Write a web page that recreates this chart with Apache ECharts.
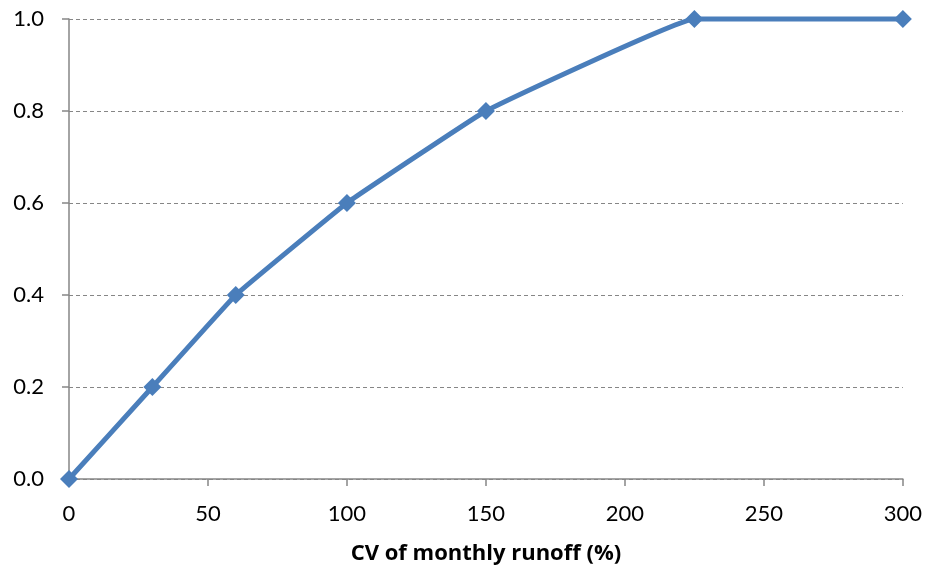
<!DOCTYPE html>
<html><head><meta charset="utf-8">
<script src="https://cdn.jsdelivr.net/npm/echarts@6/dist/echarts.min.js"></script>
<style>html,body{margin:0;padding:0;background:#fff}#c{width:925px;height:570px}</style>
</head><body><div id="c"></div>
<script>
var cvValues = [0, 30, 60, 100, 150, 225, 300];
var fractionValues = [0, 0.2, 0.4, 0.6, 0.8, 1.0, 1.0];
var xAxisTitle = 'CV of monthly runoff (%)';

var chart = echarts.init(document.getElementById('c'));
var font = 'Lato, "Open Sans", sans-serif';
chart.setOption({
  animation: false,
  grid: {left: 69, right: 22, top: 19, bottom: 91},
  xAxis: {
    type: 'value', min: 0, max: 300, interval: 50,
    name: xAxisTitle, nameLocation: 'middle', nameGap: 64,
    nameTextStyle: {fontFamily: '"Open Sans", sans-serif', fontSize: 22, fontWeight: 'bold', color: '#000'},
    axisLine: {show: true, lineStyle: {color: '#868686', width: 1.5}},
    axisTick: {show: true, inside: false, length: 7, lineStyle: {color: '#868686', width: 1.5}},
    axisLabel: {fontFamily: font, fontSize: 22, color: '#000', margin: 24},
    splitLine: {show: false}
  },
  yAxis: {
    type: 'value', min: 0, max: 1, interval: 0.2,
    axisLine: {show: true, lineStyle: {color: '#868686', width: 1.5}},
    axisTick: {show: true, inside: false, length: 7, lineStyle: {color: '#868686', width: 1.5}},
    axisLabel: {fontFamily: font, fontSize: 22, color: '#000', margin: 25,
      formatter: function (v) { return v.toFixed(1); }},
    splitLine: {show: true, lineStyle: {color: '#868686', type: [4, 3], width: 1.2}}
  },
  series: [{
    type: 'line',
    data: cvValues.map(function (x, i) { return [x, fractionValues[i]]; }),
    smooth: 0.07,
    symbol: 'diamond', symbolSize: 18,
    lineStyle: {color: '#4a7ebb', width: 5},
    itemStyle: {color: '#4a7ebb'},
    clip: false
  }]
});
</script></body></html>
